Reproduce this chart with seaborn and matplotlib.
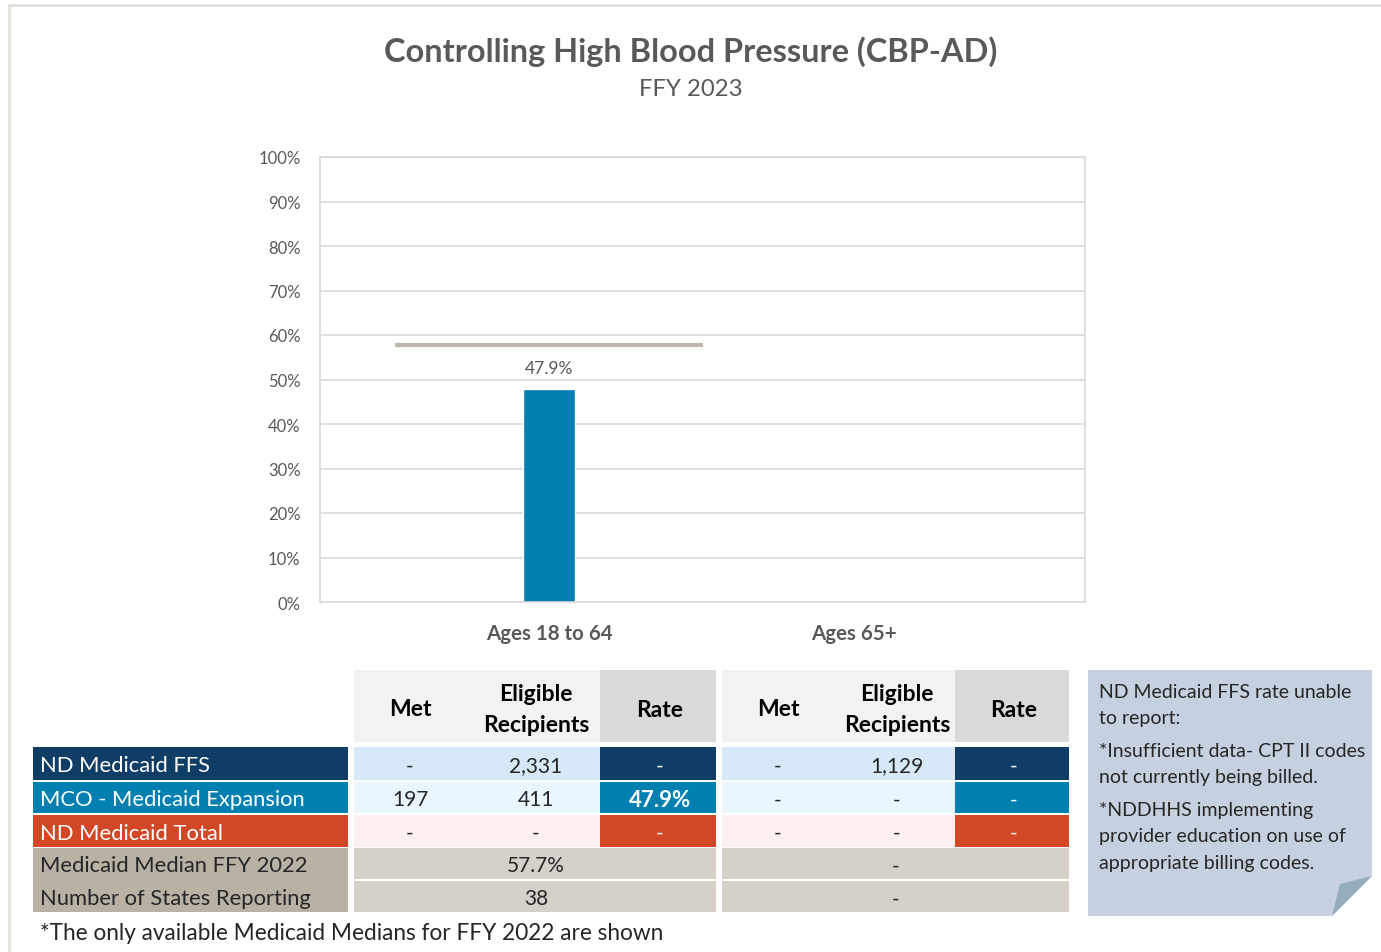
import numpy as np
import pandas as pd
import matplotlib.pyplot as plt
import seaborn as sns
from matplotlib.patches import Rectangle, Polygon

# Chart data
categories = ["Ages 18 to 64", "Ages 65+"]
rates = [47.9, np.nan]
median_2022 = 57.7

# Table data
row_labels = ["ND Medicaid FFS", "MCO - Medicaid Expansion", "ND Medicaid Total"]
met_1864 = ["-", "197", "-"]
elig_1864 = ["2,331", "411", "-"]
rate_1864 = ["-", "47.9%", "-"]
met_65 = ["-", "-", "-"]
elig_65 = ["1,129", "-", "-"]
rate_65 = ["-", "-", "-"]
median_labels = ["Medicaid Median FFY 2022", "Number of States Reporting"]
median_1864 = ["57.7%", "38"]
median_65 = ["-", "-"]

note_lines = ["ND Medicaid FFS rate unable", "to report:",
              "*Insufficient data- CPT II codes", "not currently being billed.",
              "*NDDHHS implementing", "provider education on use of",
              "appropriate billing codes."]
footnote = "*The only available Medicaid Medians for FFY 2022 are shown"

W, H = 1381, 953

sns.set_theme(style="white")
plt.rcParams['font.family'] = ['Lato', 'DejaVu Sans']

navy = "#103d66"
teal = "#0080b0"
orange = "#d24726"
tan_dark = "#b8b1a4"
tan = "#d5d0c8"
gray_txt = "#595959"
dark_txt = "#262626"

fig = plt.figure(figsize=(W / 100, H / 100), dpi=100)


def fx(px):
    return px / W


def fy(py):
    return 1 - py / H


###################################
# Bar chart

ax = fig.add_axes([fx(320), fy(603), fx(1085) - fx(320), fy(158) - fy(603)])
df = pd.DataFrame({"category": categories, "rate": rates})
sns.barplot(data=df, x="category", y="rate", order=categories,
            color=teal, saturation=1, width=0.17, errorbar=None, ax=ax)

# Data labels on the drawn bars
for p in ax.patches:
    h = p.get_height()
    if np.isfinite(h) and h > 0:
        ax.annotate(f"{h:.1f}%", (p.get_x() + p.get_width() / 2, h),
                    xytext=(0, 9), textcoords="offset points",
                    ha="center", va="bottom", fontsize=12.5, color=gray_txt)

# Medicaid median for ages 18 to 64
ax.hlines(median_2022, -0.505, 0.505, color="#bfb8aa", lw=3, zorder=3)

ax.set_xlim(-0.751, 1.757)
ax.set_ylim(0, 100)
ax.set_yticks(range(0, 101, 10))
ax.set_yticklabels([f"{v}%" for v in range(0, 101, 10)])
ax.yaxis.grid(True, color="#d9d9d9", lw=1.2)
ax.set_axisbelow(True)
for s in ax.spines.values():
    s.set_color("#d9d9d9")
    s.set_linewidth(1.2)
ax.tick_params(axis="y", length=0, pad=14, labelsize=12, labelcolor=gray_txt)
ax.tick_params(axis="x", length=0, pad=15, labelsize=14.8, labelcolor=gray_txt)
for t in ax.get_xticklabels():
    t.set_fontweight("bold")
ax.set_xlabel("")
ax.set_ylabel("")

fig.text(fx(691), fy(52), "Controlling High Blood Pressure (CBP-AD)",
         ha="center", va="center", fontsize=23.4, fontweight="bold", color=gray_txt)
fig.text(fx(691), fy(90), "FFY 2023", ha="center", va="center",
         fontsize=17.2, color=gray_txt)

###################################
# Table drawn in pixel coordinates

tb = fig.add_axes([0, 0, 1, 1])
tb.set_xlim(0, W)
tb.set_ylim(H, 0)
tb.axis("off")
tb.patch.set_alpha(0)


def box(x0, y0, x1, y1, color):
    tb.add_patch(Rectangle((x0, y0), x1 - x0, y1 - y0, color=color, lw=0))


def txt(x, y, s, color=dark_txt, ha="center", weight="normal", size=15):
    # small downward nudge so glyphs sit like the reference
    tb.text(x, y + 2, s, ha=ha, va="center", color=color, fontsize=size,
            fontweight=weight)


# outer frame
tb.plot([9, W], [6, 6], color="#e3dfda", lw=2)
tb.plot([9, 9], [6, H], color="#e3dfda", lw=2)

blocks = [(354, 600, 716), (722, 955, 1069)]
met_x = [410, 778]
elig_x = [536, 897]
rate_x = [660, 1014]

# header
for b, (x0, xr, x1) in enumerate(blocks):
    box(x0, 671, xr, 743, "#f2f2f2")
    box(xr, 671, x1, 743, "#d9d9d9")
    txt(met_x[b], 708, "Met", color="black", weight="bold", size=16.5)
    txt(elig_x[b], 693, "Eligible", color="black", weight="bold", size=16.5)
    txt(elig_x[b], 724, "Recipients", color="black", weight="bold", size=16.5)
    txt(rate_x[b], 709, "Rate", color="black", weight="bold", size=16.5)

row_y = [(748, 781), (783, 814), (816, 848)]
label_bg = [navy, teal, orange]
cell_bg = ["#d7e9f8", "#eaf6fd", "#fcf0ee"]
cols = [(met_1864, elig_1864, rate_1864), (met_65, elig_65, rate_65)]

for i, (y0, y1) in enumerate(row_y):
    yc = (y0 + y1) / 2
    box(33, y0, 348, y1, label_bg[i])
    txt(40, yc, row_labels[i], color="white", ha="left", size=15.8)
    for b, (x0, xr, x1) in enumerate(blocks):
        met, elig, rate = cols[b]
        box(x0, y0, xr, y1, cell_bg[i])
        box(xr, y0, x1, y1, label_bg[i])
        txt(met_x[b], yc, met[i])
        txt(elig_x[b], yc, elig[i])
        txt(rate_x[b], yc, rate[i], color="white",
            weight="bold" if rate[i] != "-" else "normal",
            size=16 if rate[i] != "-" else 15)

# median rows
box(33, 849, 348, 913, tan_dark)
med_y = [(849, 880), (882, 913)]
for j, (y0, y1) in enumerate(med_y):
    yc = (y0 + y1) / 2
    txt(40, yc, median_labels[j], ha="left", size=15.8)
    for b, (x0, xr, x1) in enumerate(blocks):
        box(x0, y0, x1, y1, tan)
    txt(elig_x[0], yc, median_1864[j])
    txt(elig_x[1] - 1, yc, median_65[j])

txt(40, 932, footnote, ha="left", size=16.3)

# note box with folded corner
tb.add_patch(Polygon([(1088, 671), (1372, 671), (1372, 877), (1332, 917),
                      (1088, 917)], closed=True, color="#c5d1de", lw=0))
tb.add_patch(Polygon([(1372, 877), (1332, 917), (1340, 885)], closed=True,
                     color="#98acc0", lw=0))
note_y = [691, 717, 750, 776, 809, 835, 862]
for s, y in zip(note_lines, note_y):
    txt(1099, y, s, ha="left", size=14)

fig.savefig("out.png", dpi=100)
